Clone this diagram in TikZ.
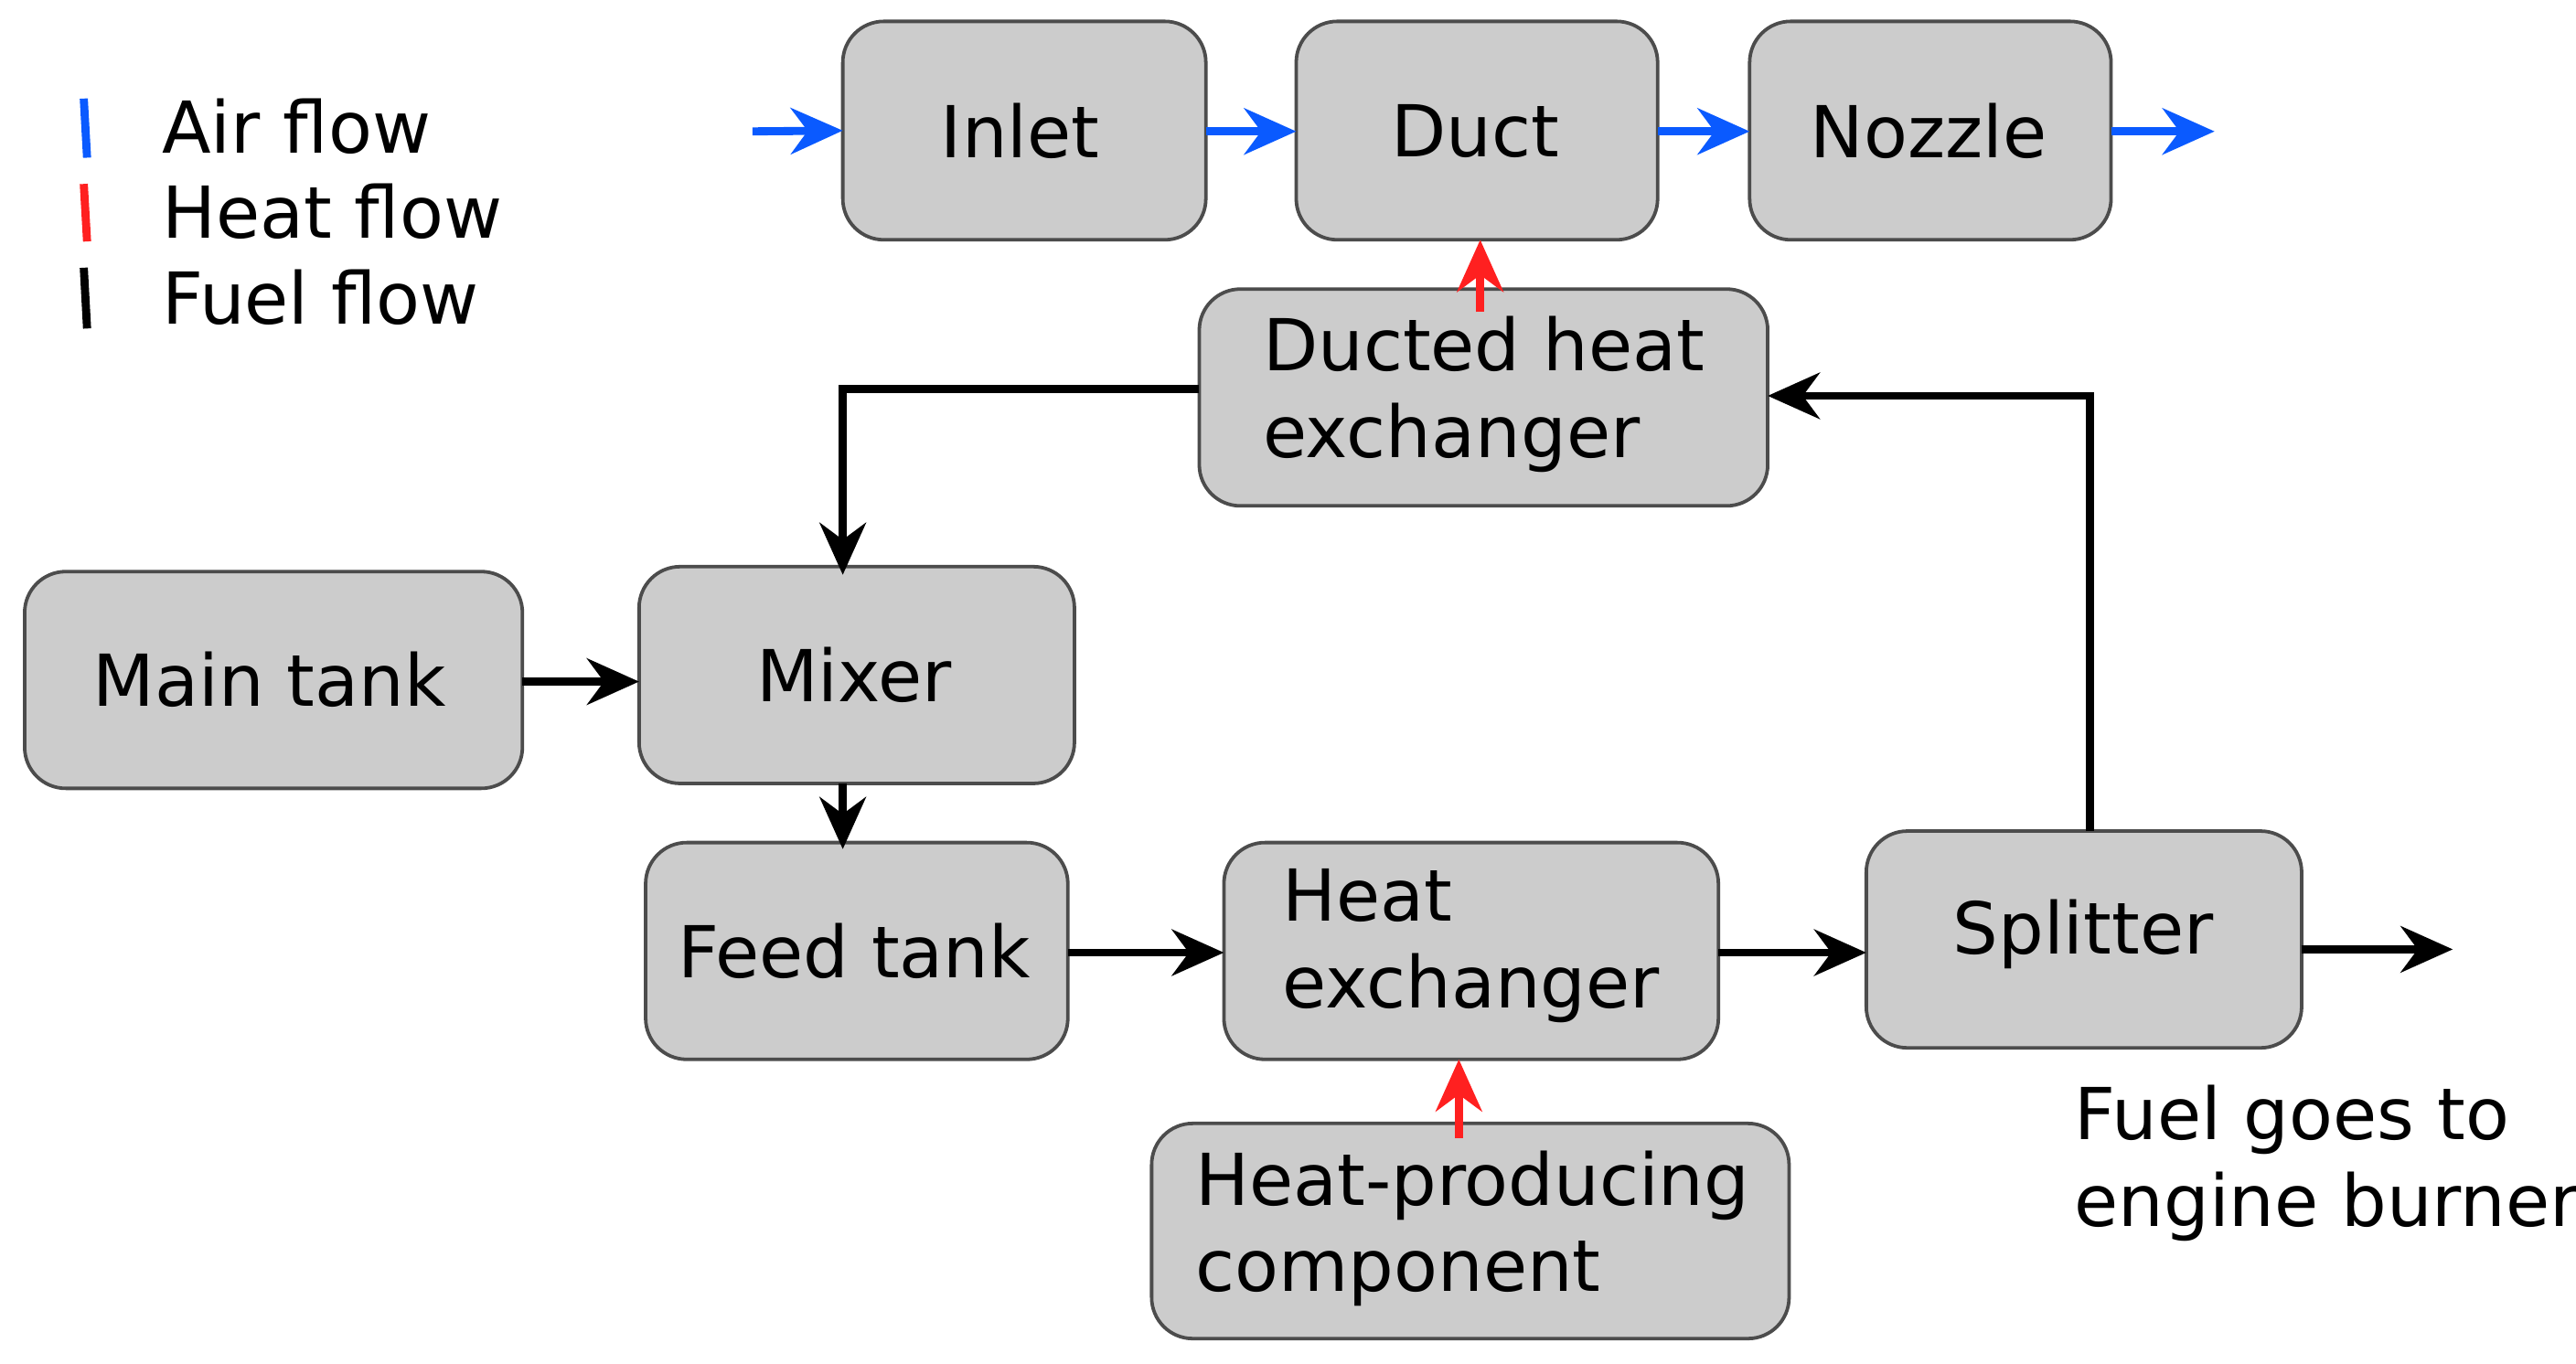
\documentclass[tikz,border=0pt]{standalone}
\usepackage{fontspec}
\setmainfont{DejaVu Sans}
\usetikzlibrary{arrows.meta}
\definecolor{boxg}{HTML}{CCCCCC}
\definecolor{airb}{HTML}{0A5AFF}
\definecolor{heatr}{HTML}{FF2020}
\begin{document}
\begin{tikzpicture}[x=0.01cm,y=-0.01cm,
  box/.style={draw=black!70,line width=0.6pt,fill=boxg,rounded corners=0.25cm},
  tx/.style={font=\fontsize{12.4}{15}\selectfont,align=left,inner sep=0pt},
  fl/.style={line width=1.4pt,-{Stealth[length=9pt,width=8pt]}},
  air/.style={fl,airb},heat/.style={fl,heatr},
  lbl/.style={tx,anchor=west}]
\useasboundingbox (0,0) rectangle (1568,830);
\newcommand{\bx}[5]{\draw[box] (#2,#3) rectangle (#4,#5); \coordinate (#1) at ({(#2+#4)/2},{(#3+#5)/2});}
\bx{inlet}{513}{13}{734}{146}
\bx{duct}{789}{13}{1009}{146}
\bx{nozzle}{1065}{13}{1285}{146}
\bx{dhx}{730}{176}{1076}{308}
\bx{main}{15}{348}{318}{480}
\bx{mixer}{389}{345}{654}{477}
\bx{feed}{393}{513}{650}{645}
\bx{hx}{745}{513}{1046}{645}
\bx{split}{1136}{506}{1401}{638}
\bx{hp}{701}{684}{1089}{815}
\node[tx] (tinlet) at (621,80) {Inlet};
\node[tx] (tduct) at (898,80) {Duct};
\node[tx] (tnozzle) at (1174,80) {Nozzle};
\node[tx] (tmain) at (164,414) {Main tank};
\node[tx] (tmixer) at (520,411) {Mixer};
\node[tx] (tfeed) at (520,579) {Feed tank};
\node[tx] (tsplit) at (1268,569) {Splitter};
\node[tx,anchor=west] (tdhx) at (768,240) {Ducted heat\\exchanger};
\node[tx,anchor=west] (thx) at (780,576) {Heat\\exchanger};
\node[tx,anchor=west] (thp) at (727,748) {Heat-producing\\component};
\draw[air] (458,80) -- (inlet -| 513,0);
\draw[air] (734,80) -- (789,80);
\draw[air] (1009,80) -- (1065,80);
\coordinate (aout) at (1348,80);
\draw[air] (1285,80) -- (aout);
\draw[heat] (901,190) -- (901,146);
\draw[heat] (888,693) -- (888,645);
\draw[fl] (730,237) -- (513,237) -- (513,350);
\draw[fl] (318,415) -- (389,415);
\draw[fl] (513,477) -- (513,517);
\draw[fl] (650,580) -- (745,580);
\draw[fl] (1046,580) -- (1136,580);
\draw[fl] (1272,506) -- (1272,241) -- (1076,241);
\coordinate (burn) at (1493,578);
\draw[fl] (1401,578) -- (burn);
\node[tx,anchor=north west] (fuel) at (1262,660) {Fuel goes to\\engine burner};
\draw[airb,line width=1.4pt] (51,60) -- (53,96);
\draw[heatr,line width=1.4pt] (51,112) -- (53,147);
\draw[black,line width=1.4pt] (51,163) -- (53,200);
\node[lbl] (l1) at (98,77) {Air flow};
\node[lbl] (l2) at (98,129) {Heat flow};
\node[lbl] (l3) at (98,181) {Fuel flow};
\end{tikzpicture}
\end{document}
